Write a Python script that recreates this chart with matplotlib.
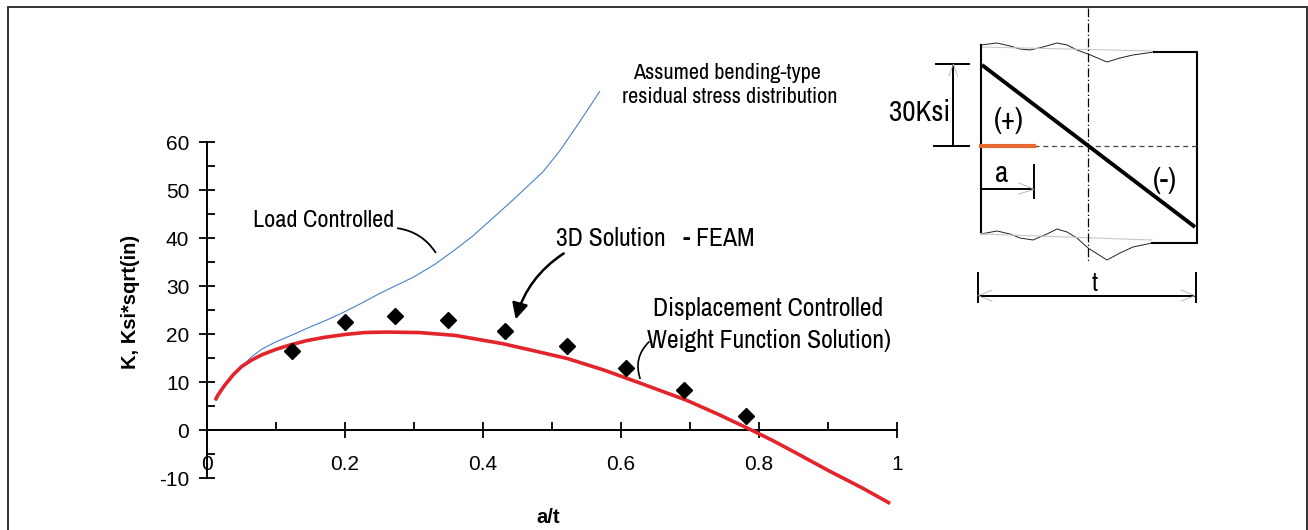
import matplotlib
matplotlib.use("Agg")
import matplotlib.pyplot as plt
from matplotlib import font_manager
from matplotlib.ticker import FixedLocator

# data
at_red = [0.012, 0.016, 0.025, 0.038, 0.05, 0.065, 0.08, 0.1, 0.12, 0.144, 0.17,
          0.2, 0.228, 0.26, 0.308, 0.36, 0.428, 0.468, 0.522, 0.575, 0.629,
          0.695, 0.742, 0.789, 0.82, 0.85, 0.9, 0.95, 0.99]
k_red = [6.2, 7.3, 9.2, 11.5, 13.2, 14.6, 15.7, 16.8, 17.7, 18.6, 19.3,
         19.9, 20.3, 20.4, 20.3, 19.7, 18.0, 16.7, 14.9, 12.5, 9.7,
         6.2, 3.2, 0.0, -2.2, -4.5, -8.4, -12.1, -15.3]

at_blue = [0.012, 0.016, 0.025, 0.038, 0.05, 0.065, 0.08, 0.099, 0.125, 0.15,
           0.175, 0.199, 0.225, 0.251, 0.3, 0.33, 0.357, 0.385, 0.41, 0.444,
           0.487, 0.512, 0.541, 0.569]
k_blue = [6.2, 7.3, 9.2, 11.5, 13.2, 15.3, 16.9, 18.3, 19.9, 21.5,
          23.0, 24.6, 26.5, 28.5, 31.9, 34.5, 37.3, 40.4, 43.6, 48.0,
          53.8, 58.3, 64.4, 70.5]

at_feam = [0.123, 0.2, 0.273, 0.35, 0.432, 0.522, 0.607, 0.692, 0.781]
k_feam = [16.5, 22.5, 23.8, 23.0, 20.6, 17.6, 13.0, 8.3, 2.9]

x_ticks = [0, 0.2, 0.4, 0.6, 0.8, 1]
x_labels = ["0", "0.2", "0.4", "0.6", "0.8", "1"]
x_minor = [0.1, 0.3, 0.5, 0.7, 0.9]
y_ticks = [-10, 0, 10, 20, 30, 40, 50, 60]
y_minor = [-5, 5, 15, 25, 35, 45, 55]

W, H = 1308, 530

avail = {f.name for f in font_manager.fontManager.ttflist}
narrow_found = sorted(n for n in avail if "Narrow" in n or "Condensed" in n)
if "Liberation Sans Narrow" in avail:
    NARROW, k = "Liberation Sans Narrow", 1.0
elif narrow_found:
    NARROW, k = narrow_found[0], 1.0
else:
    NARROW, k = "Liberation Sans", 0.87
plt.rcParams["font.family"] = ["Liberation Sans", "DejaVu Sans"]
plt.rcParams["axes.unicode_minus"] = False

fig = plt.figure(figsize=(W / 100, H / 100), dpi=100)

# main axes: x 0..1 -> px 207..897, y 0 at px 430, 4.8 px per unit
top_px, bot_px = 84, 512
y_hi = (430 - top_px) / 4.8
y_lo = (430 - bot_px) / 4.8
ax = fig.add_axes([207 / W, (H - bot_px) / H, 690 / W, (bot_px - top_px) / H])
ax.set_xlim(0, 1)
ax.set_ylim(y_lo, y_hi)
ax.patch.set_visible(False)

ax.plot(at_blue, k_blue, color="#4a80d0", lw=0.8, clip_on=False, zorder=3)
ax.plot(at_red, k_red, color="#e3242b", lw=2.6, clip_on=False, zorder=4,
        solid_capstyle="butt")
ax.plot(at_feam, k_feam, "D", color="black", ms=8, clip_on=False, zorder=5)

for s in ["top", "right"]:
    ax.spines[s].set_visible(False)
ax.spines["left"].set_position(("data", 0))
ax.spines["left"].set_bounds(-10, 60)
ax.spines["bottom"].set_position(("data", 0))
ax.spines["bottom"].set_bounds(0, 1)
for s in ["left", "bottom"]:
    ax.spines[s].set_linewidth(1.4)

ax.xaxis.set_major_locator(FixedLocator(x_ticks))
ax.set_xticklabels(x_labels)
ax.xaxis.set_minor_locator(FixedLocator(x_minor))
ax.yaxis.set_major_locator(FixedLocator(y_ticks))
ax.yaxis.set_minor_locator(FixedLocator(y_minor))
ax.tick_params(which="major", direction="inout", length=11.5, width=1.3,
               labelsize=15)
ax.tick_params(which="minor", direction="in", length=5.8, width=1.3)
ax.tick_params(axis="x", which="major", pad=12)
ax.tick_params(axis="y", which="major", pad=7)

# leaders and arrow
ax.annotate("", xy=(0.3333, 36.5), xytext=(0.2725, 42.1),
            arrowprops=dict(arrowstyle="-", lw=1.3, color="black",
                            connectionstyle="arc3,rad=-0.25"))
ax.annotate("", xy=(0.4464, 22.5), xytext=(0.5203, 37.1),
            arrowprops=dict(arrowstyle="-|>", lw=1.8, color="black",
                            mutation_scale=24,
                            connectionstyle="arc3,rad=0.2"))
ax.annotate("", xy=(0.629, 10.2), xytext=(0.6435, 18.75),
            arrowprops=dict(arrowstyle="-", lw=1.2, color="black",
                            connectionstyle="arc3,rad=0.35"))

# overlay in pixel coordinates for labels and the schematic
ov = fig.add_axes([0, 0, 1, 1])
ov.set_xlim(0, W)
ov.set_ylim(H, 0)
ov.axis("off")

# figure frame (no bottom edge)
ov.plot([8, 8, 1306.5, 1306.5], [H, 6.5, 6.5, H], color="#333333", lw=1.4,
        solid_joinstyle="miter")

ov.text(131, 302, "K, Ksi*sqrt(in)", rotation=90, ha="center", va="center",
        fontsize=14.5, fontweight="bold")
ov.text(548, 523, "a/t", ha="center", va="baseline", fontsize=14.5,
        fontweight="bold")

ov.text(727, 79, "Assumed bending-type", ha="center", va="baseline",
        family=NARROW, fontsize=16 * k)
ov.text(730, 103, "residual stress distribution", ha="center", va="baseline",
        family=NARROW, fontsize=16 * k)
ov.text(253, 227, "Load Controlled", ha="left", va="baseline",
        family=NARROW, fontsize=17.5 * k)
ov.text(556, 246, "3D Solution   - FEAM", ha="left", va="baseline",
        family=NARROW, fontsize=18.5 * k)
ov.text(768, 316, "Displacement Controlled", ha="center", va="baseline",
        family=NARROW, fontsize=18.5 * k)
ov.text(769, 348, "Weight Function Solution)", ha="center", va="baseline",
        family=NARROW, fontsize=18.5 * k)

# schematic of the residual stress distribution
wall_l = 981
wall_r = 1197
center_x = 1088.3
mid_y = 146
top_wave_x = [981, 997, 1010, 1020, 1030, 1043, 1057, 1067, 1077, 1088, 1107, 1120, 1133, 1154]
top_wave_y = [45, 43, 46, 49, 50, 47, 43, 45, 50, 54, 62, 58, 55, 52]
bot_wave_x = [981, 997, 1010, 1020, 1033, 1047, 1057, 1067, 1077, 1088, 1107, 1120, 1133, 1152]
bot_wave_y = [234, 231, 234, 238, 240, 234, 229, 232, 238, 248, 260, 253, 247, 243]

ov.plot(top_wave_x, top_wave_y, color="#222222", lw=0.7)
ov.plot([981, 1154], [47, 51], color="#c8c8c8", lw=0.8)
ov.plot(bot_wave_x, bot_wave_y, color="#222222", lw=0.7)
ov.plot([981, 1152], [234, 240], color="#c8c8c8", lw=0.8)

ov.plot([wall_l, wall_l], [45, 232], color="black", lw=1.5)
ov.plot([1154, wall_r, wall_r], [52, 52, 241], color="black", lw=1.5)
ov.plot([1152, wall_r], [243, 243], color="black", lw=1.5)

ov.plot([center_x, center_x], [8, 262], color="black", lw=0.9,
        linestyle=(0, (7, 2, 1, 2)))
ov.plot([1034, wall_r], [mid_y, mid_y], color="#444444", lw=0.9,
        linestyle=(0, (4, 3)))
ov.plot([wall_l, 1034], [mid_y, mid_y], color="#e8692f", lw=3)
ov.plot([982, 1195], [65, 227], color="black", lw=2.8, solid_capstyle="butt")

# 30Ksi dimension
ov.plot([936, 969], [63.5, 63.5], color="black", lw=1.4)
ov.plot([934, 969], [mid_y, mid_y], color="black", lw=1.4)
ov.plot([953.3, 953.3], [63.5, mid_y], color="black", lw=1.4)
ov.plot([949, 953.3, 957.6], [76, 64, 76], color="#b0b0b0", lw=0.6)
ov.text(950, 121, "30Ksi", ha="right", va="baseline", family=NARROW,
        fontsize=21 * k)

# a dimension
ov.plot([wall_l, 1034], [189.3, 189.3], color="black", lw=1.4)
ov.plot([1034, 1034], [165, 198.3], color="black", lw=1.4)
ov.plot([1019, 1034, 1019], [183, 189.3, 194], color="#b0b0b0", lw=0.6)
ov.text(1002, 181.5, "a", ha="center", va="baseline", family=NARROW,
        fontsize=21 * k)

# t dimension
ov.plot([977.7, 1195.7], [295.7, 295.7], color="black", lw=1.4)
ov.plot([977.7, 977.7], [273.3, 301.7], color="black", lw=1.4)
ov.plot([1195.7, 1195.7], [273.3, 301.7], color="black", lw=1.4)
ov.plot([992, 978, 992], [290, 295.7, 301], color="#b0b0b0", lw=0.6)
ov.plot([1181, 1195, 1181], [290, 295.7, 301], color="#b0b0b0", lw=0.6)
ov.text(1095, 291, "t", ha="center", va="baseline", family=NARROW,
        fontsize=19 * k)

ov.text(1009, 120, "(+)", ha="center", va="center", family=NARROW,
        fontsize=21 * k)
ov.text(1165, 180, "(-)", ha="center", va="center", family=NARROW,
        fontsize=21 * k)

fig.savefig("out.png", dpi=100)
